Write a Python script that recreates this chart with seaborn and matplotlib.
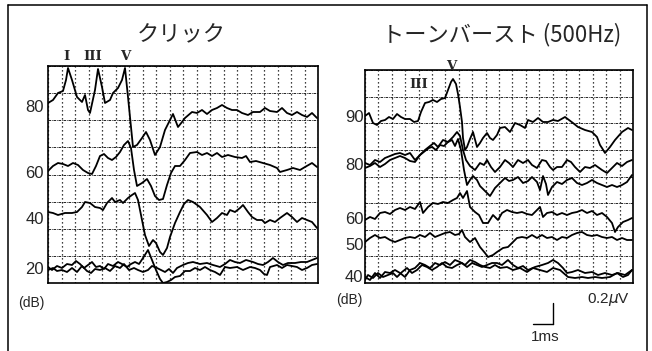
import numpy as np
import pandas as pd
import matplotlib
matplotlib.use("Agg")
import matplotlib.pyplot as plt
import matplotlib.transforms as mtransforms
from matplotlib.lines import Line2D
import seaborn as sns

sns.set_style("white")
plt.rcParams['font.family'] = ['Liberation Sans', 'Noto Sans CJK JP', 'DejaVu Sans']

# ---------------- data: time (ms) / displayed amplitude (uV, incl. offset) ----------------
click_titles = "クリック"
burst_title = "トーンバースト (500Hz)"

click_80 = [(0.00,1.80),(0.25,1.83),(0.50,1.90),(0.75,1.92),(0.90,2.03),(1.00,2.15),(1.20,2.03),(1.45,1.86),
            (1.70,1.81),(1.85,1.88),(2.00,1.73),(2.10,1.70),(2.35,1.93),(2.50,2.14),(2.70,1.96),(2.85,1.80),
            (3.10,1.83),(3.25,1.90),(3.50,1.95),(3.70,2.03),(3.85,2.15),(4.00,1.86),(4.15,1.56),(4.25,1.36),
            (4.45,1.38),(4.70,1.45),(4.90,1.51),(5.10,1.43),(5.35,1.28),(5.60,1.36),(5.85,1.53),(6.10,1.63),
            (6.25,1.69),(6.50,1.56),(6.70,1.61),(6.85,1.65),(7.20,1.71),(7.45,1.70),(7.70,1.73),(7.95,1.69),
            (8.20,1.73),(8.45,1.75),(8.70,1.78),(8.95,1.75),(9.20,1.73),(9.45,1.73),(9.70,1.70),(10.00,1.68),
            (10.25,1.71),(10.60,1.71),(10.85,1.75),(11.10,1.72),(11.45,1.71),(11.70,1.75),(11.95,1.70),
            (12.20,1.68),(12.45,1.71),(12.70,1.68),(12.95,1.66),(13.20,1.70),(13.45,1.65)]

click_60 = [(0.00,1.12),(0.25,1.17),(0.50,1.20),(0.75,1.19),(1.00,1.17),(1.25,1.20),(1.50,1.18),(1.75,1.13),(2.00,1.10),(2.20,1.09),
            (2.40,1.17),(2.60,1.27),(2.80,1.29),(3.00,1.25),(3.20,1.23),(3.40,1.26),(3.60,1.31),(3.80,1.38),(4.00,1.42),(4.15,1.35),
            (4.30,1.13),(4.45,0.97),(4.70,1.00),(4.95,1.04),(5.15,0.97),(5.35,0.87),(5.55,0.83),(5.75,0.84),(5.95,0.98),(6.15,1.10),
            (6.35,1.17),(6.60,1.17),(6.85,1.23),(7.10,1.30),(7.45,1.31),(7.70,1.28),(7.95,1.30),(8.20,1.27),(8.45,1.30),(8.70,1.26),
            (9.00,1.28),(9.35,1.26),(9.70,1.25),(9.90,1.27),(10.10,1.21),(10.40,1.22),(10.75,1.20),(11.10,1.18),(11.45,1.15),(11.60,1.11),
            (11.95,1.13),(12.25,1.15),(12.60,1.13),(12.85,1.16),(13.20,1.20),(13.45,1.16)]

click_40_t = [0,0.25,0.5,0.85,1.2,1.45,1.7,1.85,2.1,2.35, 2.6,2.75,2.95,3.2,3.35,3.6,3.75,4.0,4.2,4.35,
              4.5,4.65,4.85,5.05,5.25,5.4,5.6,5.75,5.95,6.1, 6.35,6.6,6.8,7.0,7.25,7.6,7.95,8.2,8.45,8.7,
              8.95,9.1,9.35,9.6,9.75,10.0,10.2,10.45,10.7,10.85, 11.1,11.35,11.6,11.95,12.2,12.45,12.7,12.95,13.2,13.45]
click_40_uv = [0.71,0.70,0.68,0.70,0.70,0.71,0.76,0.81,0.80,0.76, 0.75,0.73,0.80,0.85,0.81,0.83,0.80,0.85,0.88,0.90,
               0.83,0.68,0.48,0.37,0.43,0.40,0.31,0.28,0.35,0.46, 0.60,0.71,0.79,0.83,0.81,0.76,0.68,0.61,0.65,0.70,
               0.68,0.73,0.71,0.75,0.78,0.71,0.66,0.63,0.63,0.60, 0.63,0.61,0.65,0.70,0.66,0.61,0.65,0.63,0.61,0.55]

click_20a = [(0.00,0.16),(0.20,0.13),(0.45,0.17),(0.70,0.15),(0.95,0.19),(1.20,0.18),(1.40,0.22),(1.60,0.19),(1.80,0.15),
             (2.00,0.18),(2.20,0.21),(2.40,0.16),(2.60,0.17),(2.80,0.14),(3.00,0.19),(3.25,0.17),(3.50,0.21),(3.70,0.19),
             (3.95,0.16),(4.15,0.19),(4.35,0.21),(4.55,0.19),(4.75,0.25),(5.00,0.33),(5.20,0.23),(5.40,0.13),(5.60,0.04),
             (5.75,0.00),(5.95,0.01),(6.15,0.03),(6.35,0.06),(6.60,0.07),(6.85,0.12),(7.10,0.12),(7.35,0.15),(7.60,0.13),
             (7.85,0.16),(8.10,0.13),(8.35,0.11),(8.60,0.08),(8.85,0.16),(9.10,0.15),(9.45,0.16),(9.75,0.13),(10.10,0.16),
             (10.35,0.15),(10.60,0.13),(10.80,0.09),(10.95,0.08),(11.10,0.16),(11.45,0.18),(11.70,0.15),(11.95,0.18),
             (12.20,0.17),(12.45,0.16),(12.70,0.13),(12.95,0.15),(13.20,0.18),(13.45,0.19)]

click_20b = [(0.00,0.13),(0.25,0.15),(0.45,0.12),(0.70,0.13),(0.95,0.11),(1.20,0.15),(1.45,0.11),(1.70,0.17),(1.95,0.12),
             (2.15,0.10),(2.35,0.14),(2.60,0.13),(2.85,0.15),(3.10,0.12),(3.35,0.17),(3.60,0.15),(3.80,0.19),(4.05,0.13),
             (4.30,0.15),(4.50,0.13),(4.75,0.11),(5.00,0.13),(5.20,0.17),(5.45,0.15),(5.65,0.13),(5.85,0.11),(6.05,0.14),
             (6.25,0.10),(6.45,0.15),(6.75,0.18),(7.00,0.20),(7.25,0.21),(7.60,0.19),(7.95,0.20),(8.25,0.18),(8.60,0.16),
             (8.85,0.19),(9.10,0.23),(9.35,0.21),(9.60,0.20),(9.90,0.23),(10.25,0.21),(10.50,0.19),(10.75,0.18),(11.00,0.21),
             (11.25,0.25),(11.50,0.21),(11.75,0.18),(12.00,0.20),(12.35,0.20),(12.65,0.21),(12.95,0.21),(13.20,0.23),(13.45,0.25)]

burst_90 = [(0.00,1.67),(0.20,1.70),(0.40,1.60),(0.60,1.58),(0.80,1.62),(1.00,1.63),(1.20,1.66),(1.40,1.64),(1.60,1.69),(1.80,1.66),
            (2.00,1.64),(2.25,1.64),(2.45,1.61),(2.65,1.62),(2.80,1.71),(3.00,1.80),(3.20,1.81),(3.40,1.83),(3.60,1.81),(3.80,1.84),
            (4.00,1.85),(4.15,1.93),(4.30,2.01),(4.40,2.04),(4.55,1.99),(4.65,1.89),(4.75,1.76),(4.85,1.61),(4.90,1.45),(5.00,1.33),
            (5.10,1.36),(5.25,1.44),(5.40,1.51),(5.60,1.36),(5.75,1.40),(5.90,1.45),(6.10,1.50),(6.25,1.45),(6.40,1.43),(6.60,1.48),
            (6.75,1.55),(7.00,1.56),(7.25,1.51),(7.50,1.60),(7.75,1.58),(8.00,1.55),(8.15,1.63),(8.40,1.61),(8.65,1.65),(8.90,1.61),
            (9.15,1.61),(9.40,1.63),(9.65,1.62),(10.00,1.66),(10.20,1.63),(10.40,1.60),(10.65,1.56),(11.00,1.53),(11.35,1.51),(11.60,1.46),
            (11.75,1.38),(11.85,1.35),(12.00,1.30),(12.25,1.36),(12.50,1.43),(12.85,1.51),(13.15,1.55),(13.35,1.53)]

burst_80a_t = [0,0.25,0.5,0.75,1.0,1.25,1.5,1.75,2.0,2.25, 2.5,2.75,3.0,3.25,3.45,3.65,3.9,4.15,4.4,4.6,
               4.75,4.9,5.05,5.25,5.5,5.75,5.95,6.1,6.3,6.5, 6.75,7.0,7.2,7.4,7.65,7.9,8.15,8.35,8.6,8.85,
               9.05,9.25,9.4,9.6,9.85,10.1,10.3,10.5,10.75,11.0, 11.25,11.5,11.85,12.1,12.35,12.6,12.85,13.1,13.35]
burst_80a_uv = [1.20,1.18,1.23,1.21,1.25,1.27,1.29,1.30,1.28,1.30, 1.23,1.28,1.33,1.37,1.40,1.36,1.43,1.41,1.46,1.51,
                1.47,1.33,1.23,1.17,1.13,1.20,1.18,1.23,1.16,1.11, 1.16,1.23,1.20,1.16,1.23,1.20,1.23,1.18,1.15,1.23,
                1.22,1.16,1.13,1.16,1.16,1.23,1.21,1.16,1.11,1.16, 1.15,1.18,1.13,1.10,1.15,1.20,1.17,1.21,1.23]

burst_80b_t = [0,0.25,0.5,0.75,1.0,1.25,1.5,1.75,2.0,2.25, 2.5,2.75,3.0,3.2,3.35,3.55,3.75,3.95,4.15,4.35,
               4.5,4.65,4.8,4.95,5.1,5.25,5.4,5.6,5.75,5.95, 6.25,6.5,6.75,7.0,7.2,7.4,7.65,7.9,8.15,8.35,
               8.6,8.75,8.9,9.05,9.15,9.35,9.6,9.85,10.1,10.35, 10.6,10.85,11.1,11.35,11.6,11.85,12.1,12.35,12.6,12.85,
               13.1,13.35]
burst_80b_uv = [1.15,1.17,1.20,1.16,1.19,1.23,1.25,1.27,1.25,1.22, 1.21,1.28,1.32,1.35,1.36,1.33,1.38,1.37,1.41,1.43,
                1.37,1.44,1.33,1.13,0.98,1.03,1.07,1.03,0.97,0.93, 0.87,0.95,1.00,1.05,1.02,1.03,1.06,1.00,1.02,1.06,
                1.01,0.93,1.07,0.99,0.88,0.96,1.01,0.99,1.03,1.05, 1.00,0.98,1.00,1.03,1.00,0.98,0.96,0.98,0.96,0.98,
                1.01,1.08]

burst_60_t = [0,0.25,0.5,0.75,1.0,1.25,1.5,1.75,2.0,2.25, 2.5,2.75,2.9,3.15,3.4,3.65,3.9,4.15,4.4,4.6,
              4.75,4.9,5.1,5.25,5.5,5.7,5.9,6.15,6.4,6.65, 6.85,7.1,7.35,7.6,7.85,8.1,8.35,8.6,8.75,8.9,
              9.1,9.35,9.6,9.85,10.1,10.35,10.6,10.85,11.1,11.35, 11.6,11.85,12.1,12.35,12.5,12.65,12.9,13.15,13.35]
burst_60_uv = [0.63,0.66,0.64,0.70,0.71,0.69,0.73,0.75,0.73,0.76, 0.74,0.81,0.70,0.76,0.80,0.79,0.81,0.80,0.83,0.85,
               0.90,0.85,0.92,0.76,0.71,0.68,0.60,0.60,0.68,0.63, 0.70,0.73,0.71,0.70,0.71,0.69,0.68,0.73,0.76,0.66,
               0.70,0.71,0.68,0.70,0.68,0.70,0.71,0.73,0.70,0.72, 0.68,0.70,0.66,0.60,0.51,0.56,0.61,0.63,0.65]

burst_50_t = [0,0.25,0.5,0.75,1.0,1.25,1.5,1.75,2.0,2.25, 2.5,2.75,3.0,3.25,3.5,3.75,4.0,4.25,4.5,4.7,
              4.85,5.0,5.25,5.5,5.75,6.0,6.15,6.4,6.6,6.75, 6.9,7.15,7.35,7.6,7.85,8.1,8.35,8.6,8.85,9.1,
              9.35,9.6,9.85,10.1,10.35,10.6,10.85,11.1,11.35,11.6, 11.85,12.1,12.35,12.6,12.85,13.1,13.35]
burst_50_uv = [0.41,0.45,0.48,0.45,0.46,0.43,0.41,0.43,0.45,0.46, 0.45,0.48,0.46,0.50,0.46,0.48,0.50,0.51,0.48,0.49,
               0.53,0.46,0.41,0.45,0.36,0.30,0.26,0.28,0.31,0.33, 0.35,0.36,0.40,0.45,0.46,0.45,0.48,0.45,0.48,0.45,
               0.46,0.43,0.46,0.45,0.48,0.50,0.51,0.48,0.47,0.48, 0.46,0.45,0.46,0.43,0.45,0.43,0.43]

burst_40a_t = [0,0.15,0.4,0.65,0.9,1.15,1.4,1.6,1.85,2.1, 2.35,2.6,2.85,3.1,3.35,3.6,3.85,4.1,4.35,4.6,
               4.85,5.1,5.35,5.6,5.85,6.1,6.35,6.6,6.85,7.15, 7.4,7.65,7.9,8.15,8.5,8.85,9.15,9.4,9.65,9.9,
               10.1,10.35,10.65,11.0,11.35,11.65,12.0,12.35,12.65,13.0, 13.35]
burst_40a_uv = [0.03,0.08,0.05,0.10,0.06,0.08,0.10,0.06,0.11,0.15, 0.10,0.13,0.18,0.16,0.13,0.16,0.20,0.16,0.15,0.18,
                0.20,0.16,0.20,0.18,0.16,0.18,0.20,0.20,0.18,0.23, 0.18,0.15,0.17,0.13,0.16,0.18,0.20,0.23,0.20,0.15,
                0.10,0.11,0.13,0.10,0.11,0.08,0.10,0.08,0.10,0.08, 0.13]

burst_40b_t = [0,0.25,0.5,0.75,1.0,1.25,1.5,1.75,2.0,2.25, 2.5,2.75,3.0,3.25,3.5,3.75,4.0,4.25,4.5,4.75,
               5.0,5.25,5.5,5.75,6.0,6.25,6.5,6.75,7.1,7.4, 7.75,8.1,8.4,8.75,9.1,9.4,9.75,10.15,10.5,10.85,
               11.15,11.5,11.85,12.25,12.6,12.9,13.15,13.35]
burst_40b_uv = [0.06,0.03,0.10,0.05,0.11,0.10,0.13,0.10,0.06,0.13, 0.15,0.20,0.18,0.15,0.20,0.18,0.21,0.18,0.23,0.21,
                0.18,0.23,0.21,0.18,0.16,0.15,0.18,0.15,0.16,0.13, 0.15,0.11,0.15,0.13,0.11,0.15,0.13,0.06,0.05,0.06,
                0.05,0.06,0.05,0.06,0.10,0.06,0.08,0.13]

# trace labels (dB) and the amplitude level where each label sits
click_labels = ["80", "60", "40", "20"]
click_label_uv = [1.75, 1.10, 0.63, 0.13]
burst_labels = ["90", "80", "60", "50", "40"]
burst_label_uv = [1.66, 1.18, 0.64, 0.37, 0.05]

# wave peak markers (name, ms, uV)
click_peaks = [("I", 0.90, 2.26), ("III", 2.25, 2.26), ("V", 3.85, 2.26)]
burst_peaks = [("III", 2.70, 1.98), ("V", 4.30, 2.16)]


def frame(name, t=None, uv=None, pairs=None):
    if pairs is not None:
        t, uv = zip(*pairs)
    assert len(t) == len(uv), name
    return pd.DataFrame({"t": t, "uv": uv, "trace": name})


click_df = pd.concat([
    frame("80", pairs=click_80), frame("60", pairs=click_60),
    frame("40", click_40_t, click_40_uv),
    frame("20a", pairs=click_20a), frame("20b", pairs=click_20b)])
burst_df = pd.concat([
    frame("90", pairs=burst_90),
    frame("80a", burst_80a_t, burst_80a_uv), frame("80b", burst_80b_t, burst_80b_uv),
    frame("60", burst_60_t, burst_60_uv), frame("50", burst_50_t, burst_50_uv),
    frame("40a", burst_40a_t, burst_40a_uv), frame("40b", burst_40b_t, burst_40b_uv)])

W, H = 652, 351
fig = plt.figure(figsize=(W / 100, H / 100), dpi=100)
axL = fig.add_axes([48 / W, 1 - 283 / H, 270 / W, 217 / H])
axR = fig.add_axes([365 / W, 1 - 283 / H, 268 / W, 213 / H])


def style(ax, xmax, ymax):
    ax.set_xlim(0, xmax)
    ax.set_ylim(0, ymax)
    ax.set_xticks(np.linspace(0, xmax, 21))
    ax.set_yticks(np.linspace(0, ymax, 9))
    ax.tick_params(length=0, labelbottom=False, labelleft=False)
    ax.xaxis.grid(True, color="black", ls=(0, (1, 2.2)), lw=0.9)
    ax.yaxis.grid(True, color="black", ls=(0, (3, 1, 1, 1)), lw=0.6)
    ax.set_xlabel("")
    ax.set_ylabel("")
    for s in ax.spines.values():
        s.set_color("black")
        s.set_linewidth(1.2)
        s.set_visible(True)


for ax, df in ((axL, click_df), (axR, burst_df)):
    sns.lineplot(data=df, x="t", y="uv", units="trace", estimator=None, sort=False,
                 color="black", lw=1.3, ax=ax, legend=False)

style(axL, 13.5, 2.17)
style(axR, 13.4, 2.13)

# trace level labels
for ax, labels, levels, xf in ((axL, click_labels, click_label_uv, -0.015),
                               (axR, burst_labels, burst_label_uv, -0.006)):
    tr = mtransforms.blended_transform_factory(ax.transAxes, ax.transData)
    for lab, lev in zip(labels, levels):
        ax.text(xf, lev, lab, transform=tr, ha="right", va="center", fontsize=12, clip_on=False)

# peak labels
for ax, peaks in ((axL, click_peaks), (axR, burst_peaks)):
    for name, t, uv in peaks:
        ax.text(t, uv, name, ha="center", va="center", fontsize=9.5, family="DejaVu Serif",
                weight="bold", clip_on=False)

# titles
fig.text(181 / W, 1 - 35 / H, click_titles, ha="center", va="center", fontsize=16,
         family=["Noto Sans CJK JP", "DejaVu Sans"])
fig.text(502 / W, 1 - 35 / H, burst_title, ha="center", va="center", fontsize=16,
         family=["Noto Sans CJK JP", "DejaVu Sans"])

# unit labels
axL.text(-0.85, -0.20, "(dB)", ha="center", va="center", fontsize=10, clip_on=False)
axR.text(-0.80, -0.17, "(dB)", ha="center", va="center", fontsize=10, clip_on=False)
axR.text(13.25, -0.17, "0.2$\\mu$V", ha="right", va="center", fontsize=11, clip_on=False)

# scale bar: 1 ms horizontal, 0.2 uV vertical
axR.plot([9.4, 9.4], [-0.20, -0.41], color="black", lw=1.0, clip_on=False)
axR.plot([8.4, 9.4], [-0.41, -0.41], color="black", lw=1.0, clip_on=False)
axR.text(9.0, -0.54, "1ms", ha="center", va="center", fontsize=11, clip_on=False)

# outer frame
for xs, ys in (([8, 8], [5, 351]), ([8, 647], [5, 5]), ([647, 647], [5, 351])):
    fig.add_artist(Line2D([x / W for x in xs], [1 - y / H for y in ys], color="black", lw=1.1))

fig.savefig("out.png", dpi=100)
